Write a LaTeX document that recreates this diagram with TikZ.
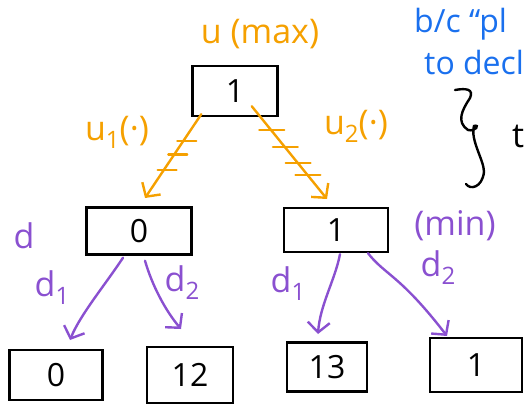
\documentclass[tikz,border=0pt]{standalone}
\usepackage{fontspec}
\setmainfont{Open Sans}
\usetikzlibrary{arrows.meta}
\definecolor{uorange}{HTML}{F5A000}
\definecolor{dpurple}{HTML}{8A50D0}
\definecolor{nblue}{HTML}{1A70EE}
\tikzset{
  val/.style={draw=black,line width=2.4pt,inner sep=0pt,font=\fontsize{32}{32}\selectfont},
  ulab/.style={text=uorange,inner sep=0pt,font=\fontsize{34}{34}\selectfont},
  dlab/.style={text=dpurple,inner sep=0pt,font=\fontsize{34}{34}\selectfont},
  blab/.style={text=nblue,inner sep=0pt,anchor=west,font=\fontsize{32}{32}\selectfont},
  hatch/.style={draw=uorange,line width=2.2pt,line cap=round},
  uarrow/.style={draw=uorange,line width=2.4pt,line cap=round,-{Straight Barb[length=10pt,width=22pt,line width=2.4pt]}},
  darrow/.style={draw=dpurple,line width=2.4pt,line cap=round,-{Straight Barb[length=10pt,width=22pt,line width=2.4pt]}},
}
\newcommand{\sub}[1]{\raisebox{-8pt}{\fontsize{24}{24}\selectfont #1}}
\begin{document}
\begin{tikzpicture}[x=1pt,y=-1pt]
\useasboundingbox (0,0) rectangle (524,408);
\clip (0,0) rectangle (524,408);
% value boxes
\node[val,minimum width=85pt,minimum height=50pt] (root) at (235,91) {1};
\node[val,minimum width=105pt,minimum height=47pt] (lm) at (139,231) {0};
\node[val,minimum width=104pt,minimum height=44pt] (rm) at (336,230) {1};
\node[val,minimum width=93pt,minimum height=50pt] (l1) at (56,375) {0};
\node[val,minimum width=86pt,minimum height=56pt] (l2) at (190,375) {12};
\node[val,minimum width=80pt,minimum height=49pt] (l3) at (327,367) {13};
\node[val,minimum width=92pt,minimum height=54pt] (l4) at (476,365) {1};
% orange labels
\node[ulab] (umax) at (260,34) {u (max)};
\node[ulab] (u1) at (117,132) {u\sub{1}(·)};
\node[ulab] (u2) at (356,126) {u\sub{2}(·)};
% orange arrows with hatch marks
\coordinate (ra) at ([xshift=10pt,yshift=3pt]root.south west);
\coordinate (rb) at ([xshift=-27pt,yshift=11pt]root.south east);
\coordinate (ea) at (145,198);
\coordinate (eb) at (327,199);
\draw[uarrow] (ra) -- (ea);
\draw[uarrow] (rb) -- (eb);
\path (ra) -- (ea) coordinate[pos=0.32] (ha1) coordinate[pos=0.48] (ha2) coordinate[pos=0.67] (ha3);
\path (rb) -- (eb) coordinate[pos=0.26] (hb1) coordinate[pos=0.44] (hb2) coordinate[pos=0.61] (hb3) coordinate[pos=0.74] (hb4);
\foreach \h in {ha1,ha2,ha3}{
  \draw[hatch] ([xshift=-6pt]\h) -- ([xshift=13pt]\h);
}
\foreach \h in {hb1,hb2,hb3,hb4}{
  \draw[hatch] ([xshift=-12pt]\h) -- ([xshift=13pt]\h);
}
% purple labels
\node[dlab] (d) at (24,236) {d};
\node[dlab] (d1a) at (52,288) {d\sub{1}};
\node[dlab] (d2a) at (182,283) {d\sub{2}};
\node[dlab] (d1b) at (288,284) {d\sub{1}};
\node[dlab] (d2b) at (438,268) {d\sub{2}};
\node[dlab] (min) at (455,226) {(min)};
% purple arrows
\coordinate (lma) at ([xshift=-16pt,yshift=-2pt]lm.south);
\coordinate (lmb) at ([xshift=6pt,yshift=-5pt]lm.south);
\coordinate (rma) at ([xshift=4pt,yshift=-1pt]rm.south);
\coordinate (rmb) at ([xshift=32pt,yshift=0pt]rm.south);
\coordinate (t1) at (70,340);
\coordinate (t2) at (181,329);
\coordinate (t3) at (318,334);
\coordinate (t4) at (447,336);
\draw[darrow] (lma) .. controls (105,285) and (80,315) .. (t1);
\draw[darrow] (lmb) .. controls (152,285) and (165,310) .. (t2);
\draw[darrow] (rma) .. controls (335,280) and (320,305) .. (t3);
\draw[darrow] (rmb) .. controls (385,275) and (400,275) .. (t4);
% blue note
\node[blab] (n1) at (414,24) {b/c ``pl};
\node[blab] (n2) at (424,62) {to decl};
% brace and t
\coordinate (b0) at (455,90);
\draw[line width=2.4pt,line cap=round] (b0) .. controls (466,88) and (474,89) .. (470,98)
  .. controls (462,110) and (456,122) .. (468,130) .. controls (476,132) and (480,124) .. (474,126)
  .. controls (470,140) and (484,160) .. (484,172) .. controls (482,188) and (470,190) .. (466,184);
\node[inner sep=0pt,font=\fontsize{34}{34}\selectfont] (t) at (518,136) {t};
\end{tikzpicture}
\end{document}
